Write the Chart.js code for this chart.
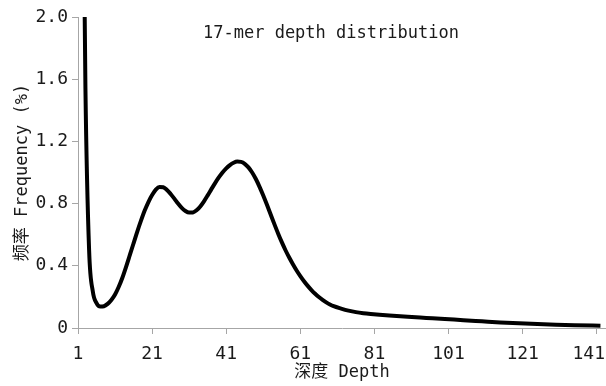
<!DOCTYPE html>
<html>
<head>
<meta charset="utf-8">
<script src="https://cdn.jsdelivr.net/npm/chart.js@4.4.1/dist/chart.umd.min.js"></script>
<style>
  html, body { margin: 0; padding: 0; background: #fff; }
  canvas { display: block; }
</style>
</head>
<body>
<canvas id="chart" width="606" height="386"></canvas>
<script>
// depth values (x) and frequency % (y)
const depth = [2, 3, 4, 5, 6, 7, 8, 9, 10, 11, 12, 13, 14, 15, 16, 17, 18, 19, 20,
  21, 22, 23, 24, 25, 26, 27, 28, 29, 30, 31, 32, 33, 34, 35, 36, 37, 38, 39, 40,
  41, 42, 43, 44, 45, 46, 47, 48, 49, 50, 51, 52, 53, 54, 55, 56, 57, 58, 59, 60,
  61, 62, 63, 64, 65, 66, 67, 68, 69, 70, 72, 74, 76, 78, 80, 85, 90, 95, 100,
  105, 110, 115, 120, 125, 130, 135, 142];
const freq = [4.0, 1.55, 0.5, 0.235, 0.16, 0.138, 0.14, 0.155, 0.18, 0.215, 0.265, 0.325, 0.395, 0.47, 0.545, 0.62, 0.69, 0.755, 0.81,
  0.855, 0.89, 0.907, 0.905, 0.888, 0.862, 0.832, 0.80, 0.772, 0.752, 0.742, 0.743, 0.757, 0.782, 0.815, 0.853, 0.893, 0.932, 0.968, 1.0,
  1.027, 1.048, 1.063, 1.07, 1.068, 1.056, 1.033, 1.0, 0.958, 0.908, 0.852, 0.792, 0.73, 0.668, 0.608, 0.552, 0.50, 0.453, 0.41, 0.37,
  0.334, 0.301, 0.271, 0.244, 0.22, 0.199, 0.181, 0.165, 0.151, 0.14, 0.125, 0.112, 0.102, 0.095, 0.09, 0.08, 0.072, 0.065, 0.058,
  0.05, 0.043, 0.036, 0.03, 0.025, 0.021, 0.018, 0.015];
const xTicks = [1, 21, 41, 61, 81, 101, 121, 141];
const yTicks = [0, 0.4, 0.8, 1.2, 1.6, 2.0];

const chartTitle = "17-mer depth distribution";
const xTitle = "深度 Depth";
const yTitle = "频率 Frequency (%)";

const FONT = "'DejaVu Sans Mono', 'Noto Sans CJK SC', monospace";
const AXIS = "#a6a6a6";
const INK = "#1a1a1a";

/* === title inside plot + x tick labels (last one kept inside canvas) */
const overlayPlugin = {
  id: "overlay",
  afterDraw(chart) {
    const ctx = chart.ctx;
    const { left, top, bottom } = chart.chartArea;
    const xs = chart.scales.x;

    ctx.save();
    ctx.fillStyle = INK;
    ctx.font = "17px " + FONT;
    ctx.textBaseline = "middle";
    ctx.textAlign = "left";
    ctx.fillText(chartTitle, left + 125, top + 17);

    ctx.font = "18px " + FONT;
    ctx.textAlign = "center";
    xTicks.forEach(v => {
      const label = String(v);
      const w = ctx.measureText(label).width;
      let x = xs.getPixelForValue(v);
      x = Math.min(x, chart.width - w / 2 - 1);
      ctx.fillText(label, x, bottom + 26);
    });
    ctx.restore();
  }
};

const series = depth.map((d, i) => ({ x: d, y: freq[i] }));

new Chart(document.getElementById("chart"), {
  type: "line",
  data: {
    datasets: [{
      data: series,
      borderColor: "#000",
      borderWidth: 4,
      pointRadius: 0,
      cubicInterpolationMode: "monotone",
      clip: 0,
      fill: false
    }]
  },
  options: {
    responsive: false,
    animation: false,
    layout: { padding: { top: 17, right: 0, left: 0, bottom: 0 } },
    plugins: { legend: { display: false }, tooltip: { enabled: false } },
    scales: {
      x: {
        type: "linear",
        min: 1,
        max: 143.5,
        afterBuildTicks: s => { s.ticks = xTicks.map(v => ({ value: v })); },
        afterFit: s => { s.height = 58; s.paddingLeft = 0; s.paddingRight = 0; },
        ticks: { display: false },
        grid: { drawOnChartArea: false, drawTicks: true, tickLength: 6, color: AXIS },
        border: { display: true, color: AXIS },
        title: {
          display: true, text: xTitle, color: INK,
          font: { family: FONT, size: 17 }, padding: { top: 0, bottom: 3 }
        }
      },
      y: {
        min: 0,
        max: 2,
        afterBuildTicks: s => { s.ticks = yTicks.map(v => ({ value: v })); },
        afterFit: s => { s.width = 78; s.paddingTop = 0; s.paddingBottom = 0; },
        ticks: {
          color: INK,
          font: { family: FONT, size: 18 },
          padding: 4,
          callback: v => (v === 0 ? "0" : v.toFixed(1))
        },
        grid: { drawOnChartArea: false, drawTicks: true, tickLength: 6, color: AXIS },
        border: { display: true, color: AXIS },
        title: {
          display: true, text: yTitle, color: INK,
          font: { family: FONT, size: 17 }, padding: { top: 12, bottom: 0 }
        }
      }
    }
  },
  plugins: [overlayPlugin]
});
</script>
</body>
</html>
